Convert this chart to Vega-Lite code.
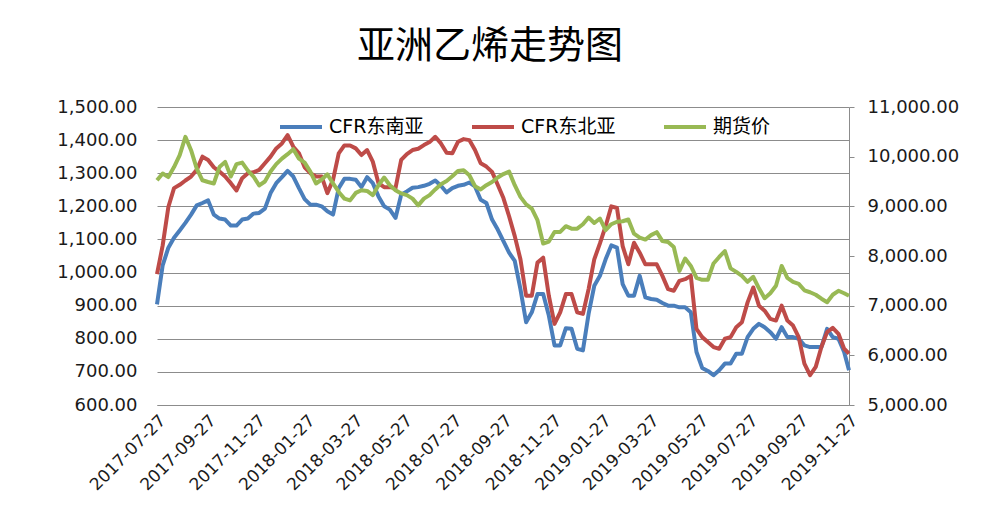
{
  "$schema": "https://vega.github.io/schema/vega-lite/v6.json",
  "width": 692,
  "height": 298,
  "autosize": {"type": "none"},
  "padding": {"left": 157, "top": 107, "right": 136, "bottom": 104},
  "background": "white",
  "title": {"text": "亚洲乙烯走势图", "font": "Noto Sans CJK SC", "fontSize": 38, "fontWeight": "normal", "color": "#000000", "anchor": "middle", "dx": -13, "offset": 32},
  "config": {"view": {"stroke": null}},
  "data": {"values": [
    {"date":"2017-07-27","CFR东南亚":904,"CFR东北亚":995,"期货价":9525},
    {"date":"2017-08-03","CFR东南亚":1022,"CFR东北亚":1082,"期货价":9660},
    {"date":"2017-08-10","CFR东南亚":1075,"CFR东北亚":1198,"期货价":9590},
    {"date":"2017-08-17","CFR东南亚":1105,"CFR东北亚":1255,"期货价":9790},
    {"date":"2017-08-24","CFR东南亚":1127,"CFR东北亚":1265,"期货价":10030},
    {"date":"2017-08-31","CFR东南亚":1150,"CFR东北亚":1278,"期货价":10400},
    {"date":"2017-09-07","CFR东南亚":1175,"CFR东北亚":1290,"期货价":10130},
    {"date":"2017-09-14","CFR东南亚":1203,"CFR东北亚":1310,"期货价":9760},
    {"date":"2017-09-21","CFR东南亚":1210,"CFR东北亚":1350,"期货价":9525},
    {"date":"2017-09-28","CFR东南亚":1218,"CFR东北亚":1340,"期货价":9490},
    {"date":"2017-10-05","CFR东南亚":1175,"CFR东北亚":1318,"期货价":9460},
    {"date":"2017-10-12","CFR东南亚":1163,"CFR东北亚":1305,"期货价":9790},
    {"date":"2017-10-19","CFR东南亚":1160,"CFR东北亚":1290,"期货价":9895},
    {"date":"2017-10-26","CFR东南亚":1142,"CFR东北亚":1270,"期货价":9600},
    {"date":"2017-11-02","CFR东南亚":1142,"CFR东北亚":1248,"期货价":9850},
    {"date":"2017-11-09","CFR东南亚":1160,"CFR东北亚":1285,"期货价":9880},
    {"date":"2017-11-16","CFR东南亚":1163,"CFR东北亚":1300,"期货价":9720},
    {"date":"2017-11-23","CFR东南亚":1178,"CFR东北亚":1303,"期货价":9600},
    {"date":"2017-11-30","CFR东南亚":1180,"CFR东北亚":1310,"期货价":9420},
    {"date":"2017-12-07","CFR东南亚":1193,"CFR东北亚":1330,"期货价":9500},
    {"date":"2017-12-14","CFR东南亚":1240,"CFR东北亚":1350,"期货价":9700},
    {"date":"2017-12-21","CFR东南亚":1270,"CFR东北亚":1375,"期货价":9850},
    {"date":"2017-12-28","CFR东南亚":1288,"CFR东北亚":1390,"期货价":9960},
    {"date":"2018-01-04","CFR东南亚":1307,"CFR东北亚":1415,"期货价":10050},
    {"date":"2018-01-11","CFR东南亚":1290,"CFR东北亚":1380,"期货价":10150},
    {"date":"2018-01-18","CFR东南亚":1255,"CFR东北亚":1360,"期货价":9960},
    {"date":"2018-01-25","CFR东南亚":1222,"CFR东北亚":1318,"期货价":9880},
    {"date":"2018-02-01","CFR东南亚":1205,"CFR东北亚":1300,"期货价":9700},
    {"date":"2018-02-08","CFR东南亚":1205,"CFR东北亚":1290,"期货价":9460},
    {"date":"2018-02-15","CFR东南亚":1200,"CFR东北亚":1290,"期货价":9540},
    {"date":"2018-02-22","CFR东南亚":1185,"CFR东北亚":1240,"期货价":9645},
    {"date":"2018-03-01","CFR东南亚":1175,"CFR东北亚":1280,"期货价":9460},
    {"date":"2018-03-08","CFR东南亚":1255,"CFR东北亚":1360,"期货价":9290},
    {"date":"2018-03-15","CFR东南亚":1283,"CFR东北亚":1384,"期货价":9155},
    {"date":"2018-03-22","CFR东南亚":1283,"CFR东北亚":1384,"期货价":9120},
    {"date":"2018-03-29","CFR东南亚":1280,"CFR东北亚":1375,"期货价":9270},
    {"date":"2018-04-05","CFR东南亚":1258,"CFR东北亚":1355,"期货价":9325},
    {"date":"2018-04-12","CFR东南亚":1288,"CFR东北亚":1370,"期货价":9310},
    {"date":"2018-04-19","CFR东南亚":1270,"CFR东北亚":1335,"期货价":9225},
    {"date":"2018-04-26","CFR东南亚":1230,"CFR东北亚":1270,"期货价":9425},
    {"date":"2018-05-03","CFR东南亚":1200,"CFR东北亚":1258,"期货价":9580},
    {"date":"2018-05-10","CFR东南亚":1190,"CFR东北亚":1258,"期货价":9425},
    {"date":"2018-05-17","CFR东南亚":1165,"CFR东北亚":1255,"期货价":9325},
    {"date":"2018-05-24","CFR东南亚":1235,"CFR东北亚":1340,"期货价":9260},
    {"date":"2018-05-31","CFR东南亚":1245,"CFR东北亚":1358,"期货价":9225},
    {"date":"2018-06-07","CFR东南亚":1256,"CFR东北亚":1370,"期货价":9155},
    {"date":"2018-06-14","CFR东南亚":1258,"CFR东北亚":1374,"期货价":9020},
    {"date":"2018-06-21","CFR东南亚":1262,"CFR东北亚":1385,"期货价":9155},
    {"date":"2018-06-28","CFR东南亚":1268,"CFR东北亚":1394,"期货价":9225},
    {"date":"2018-07-05","CFR东南亚":1278,"CFR东北亚":1410,"期货价":9340},
    {"date":"2018-07-12","CFR东南亚":1262,"CFR东北亚":1390,"期货价":9445},
    {"date":"2018-07-19","CFR东南亚":1242,"CFR东北亚":1362,"期货价":9510},
    {"date":"2018-07-26","CFR东南亚":1255,"CFR东北亚":1360,"期货价":9605},
    {"date":"2018-08-02","CFR东南亚":1262,"CFR东北亚":1395,"期货价":9710},
    {"date":"2018-08-09","CFR东南亚":1265,"CFR东北亚":1403,"期货价":9725},
    {"date":"2018-08-16","CFR东南亚":1272,"CFR东北亚":1400,"期货价":9625},
    {"date":"2018-08-23","CFR东南亚":1260,"CFR东北亚":1370,"期货价":9405},
    {"date":"2018-08-30","CFR东南亚":1220,"CFR东北亚":1330,"期货价":9340},
    {"date":"2018-09-06","CFR东南亚":1210,"CFR东北亚":1320,"期货价":9425},
    {"date":"2018-09-13","CFR东南亚":1160,"CFR东北亚":1304,"期货价":9490},
    {"date":"2018-09-20","CFR东南亚":1130,"CFR东北亚":1265,"期货价":9580},
    {"date":"2018-09-27","CFR东南亚":1095,"CFR东北亚":1225,"期货价":9650},
    {"date":"2018-10-04","CFR东南亚":1060,"CFR东北亚":1170,"期货价":9700},
    {"date":"2018-10-11","CFR东南亚":1035,"CFR东北亚":1110,"期货价":9425},
    {"date":"2018-10-18","CFR东南亚":950,"CFR东北亚":1040,"期货价":9190},
    {"date":"2018-10-25","CFR东南亚":850,"CFR东北亚":930,"期货价":9040},
    {"date":"2018-11-01","CFR东南亚":880,"CFR东北亚":930,"期货价":8955},
    {"date":"2018-11-08","CFR东南亚":935,"CFR东北亚":1030,"期货价":8720},
    {"date":"2018-11-15","CFR东南亚":935,"CFR东北亚":1045,"期货价":8250},
    {"date":"2018-11-22","CFR东南亚":870,"CFR东北亚":930,"期货价":8290},
    {"date":"2018-11-29","CFR东南亚":780,"CFR东北亚":845,"期货价":8485},
    {"date":"2018-12-06","CFR东南亚":780,"CFR东北亚":880,"期货价":8485},
    {"date":"2018-12-13","CFR东南亚":832,"CFR东北亚":935,"期货价":8600},
    {"date":"2018-12-20","CFR东南亚":830,"CFR东北亚":935,"期货价":8550},
    {"date":"2018-12-27","CFR东南亚":770,"CFR东北亚":880,"期货价":8550},
    {"date":"2019-01-03","CFR东南亚":765,"CFR东北亚":875,"期货价":8640},
    {"date":"2019-01-10","CFR东南亚":875,"CFR东北亚":950,"期货价":8775},
    {"date":"2019-01-17","CFR东南亚":960,"CFR东北亚":1040,"期货价":8665},
    {"date":"2019-01-24","CFR东南亚":990,"CFR东北亚":1088,"期货价":8755},
    {"date":"2019-01-31","CFR东南亚":1040,"CFR东北亚":1140,"期货价":8520},
    {"date":"2019-02-07","CFR东南亚":1082,"CFR东北亚":1200,"期货价":8640},
    {"date":"2019-02-14","CFR东南亚":1075,"CFR东北亚":1195,"期货价":8690},
    {"date":"2019-02-21","CFR东南亚":965,"CFR东北亚":1080,"期货价":8700},
    {"date":"2019-02-28","CFR东南亚":930,"CFR东北亚":1025,"期货价":8735},
    {"date":"2019-03-07","CFR东南亚":930,"CFR东北亚":1090,"期货价":8450},
    {"date":"2019-03-14","CFR东南亚":990,"CFR东北亚":1060,"期货价":8370},
    {"date":"2019-03-21","CFR东南亚":925,"CFR东北亚":1025,"期货价":8330},
    {"date":"2019-03-28","CFR东南亚":920,"CFR东北亚":1025,"期货价":8420},
    {"date":"2019-04-04","CFR东南亚":918,"CFR东北亚":1025,"期货价":8480},
    {"date":"2019-04-11","CFR东南亚":908,"CFR东北亚":990,"期货价":8300},
    {"date":"2019-04-18","CFR东南亚":900,"CFR东北亚":950,"期货价":8280},
    {"date":"2019-04-25","CFR东南亚":900,"CFR东北亚":945,"期货价":8180},
    {"date":"2019-05-02","CFR东南亚":895,"CFR东北亚":975,"期货价":7700},
    {"date":"2019-05-09","CFR东南亚":895,"CFR东北亚":980,"期货价":7950},
    {"date":"2019-05-16","CFR东南亚":880,"CFR东北亚":990,"期货价":7800},
    {"date":"2019-05-23","CFR东南亚":760,"CFR东北亚":830,"期货价":7560},
    {"date":"2019-05-30","CFR东南亚":712,"CFR东北亚":805,"期货价":7520},
    {"date":"2019-06-06","CFR东南亚":703,"CFR东北亚":790,"期货价":7520},
    {"date":"2019-06-13","CFR东南亚":690,"CFR东北亚":775,"期货价":7850},
    {"date":"2019-06-20","CFR东南亚":705,"CFR东北亚":770,"期货价":7980},
    {"date":"2019-06-27","CFR东南亚":725,"CFR东北亚":800,"期货价":8100},
    {"date":"2019-07-04","CFR东南亚":725,"CFR东北亚":805,"期货价":7750},
    {"date":"2019-07-11","CFR东南亚":755,"CFR东北亚":835,"期货价":7680},
    {"date":"2019-07-18","CFR东南亚":755,"CFR东北亚":850,"期货价":7600},
    {"date":"2019-07-25","CFR东南亚":805,"CFR东北亚":910,"期货价":7480},
    {"date":"2019-08-01","CFR东南亚":830,"CFR东北亚":955,"期货价":7580},
    {"date":"2019-08-08","CFR东南亚":845,"CFR东北亚":900,"期货价":7350},
    {"date":"2019-08-15","CFR东南亚":835,"CFR东北亚":885,"期货价":7150},
    {"date":"2019-08-22","CFR东南亚":820,"CFR东北亚":860,"期货价":7250},
    {"date":"2019-08-29","CFR东南亚":800,"CFR东北亚":855,"期货价":7400},
    {"date":"2019-09-05","CFR东南亚":835,"CFR东北亚":900,"期货价":7800},
    {"date":"2019-09-12","CFR东南亚":805,"CFR东北亚":855,"期货价":7560},
    {"date":"2019-09-19","CFR东南亚":805,"CFR东北亚":840,"期货价":7480},
    {"date":"2019-09-26","CFR东南亚":800,"CFR东北亚":805,"期货价":7440},
    {"date":"2019-10-03","CFR东南亚":780,"CFR东北亚":725,"期货价":7310},
    {"date":"2019-10-10","CFR东南亚":775,"CFR东北亚":690,"期货价":7270},
    {"date":"2019-10-17","CFR东南亚":775,"CFR东北亚":715,"期货价":7220},
    {"date":"2019-10-24","CFR东南亚":775,"CFR东北亚":775,"期货价":7140},
    {"date":"2019-10-31","CFR东南亚":830,"CFR东北亚":820,"期货价":7070},
    {"date":"2019-11-07","CFR东南亚":805,"CFR东北亚":833,"期货价":7220},
    {"date":"2019-11-14","CFR东南亚":800,"CFR东北亚":815,"期货价":7300},
    {"date":"2019-11-21","CFR东南亚":760,"CFR东北亚":770,"期货价":7250},
    {"date":"2019-11-27","CFR东南亚":705,"CFR东北亚":755,"期货价":7200}
  ]},
  "transform": [{"fold": ["CFR东南亚", "CFR东北亚", "期货价"], "as": ["series", "value"]}],
  "encoding": {
    "x": {
      "field": "date", "type": "temporal", "timeUnit": "utcyearmonthdate",
      "scale": {"domain": [{"year": 2017, "month": 7, "date": 27, "utc": true}, {"year": 2019, "month": 11, "date": 27, "utc": true}]},
      "axis": {
        "title": null, "grid": false, "domain": true, "domainColor": "#8c8c8c", "domainWidth": 1,
        "ticks": false, "labelAngle": -45, "labelAlign": "right", "labelBaseline": "top", "labelPadding": 7,
        "format": "%Y-%m-%d", "labelFont": "DejaVu Sans", "labelFontSize": 17, "labelColor": "#1a1a1a",
        "labelOverlap": false, "labelFlush": false,
        "values": [
          {"year": 2017, "month": 7, "date": 27, "utc": true},
          {"year": 2017, "month": 9, "date": 27, "utc": true},
          {"year": 2017, "month": 11, "date": 27, "utc": true},
          {"year": 2018, "month": 1, "date": 27, "utc": true},
          {"year": 2018, "month": 3, "date": 27, "utc": true},
          {"year": 2018, "month": 5, "date": 27, "utc": true},
          {"year": 2018, "month": 7, "date": 27, "utc": true},
          {"year": 2018, "month": 9, "date": 27, "utc": true},
          {"year": 2018, "month": 11, "date": 27, "utc": true},
          {"year": 2019, "month": 1, "date": 27, "utc": true},
          {"year": 2019, "month": 3, "date": 27, "utc": true},
          {"year": 2019, "month": 5, "date": 27, "utc": true},
          {"year": 2019, "month": 7, "date": 27, "utc": true},
          {"year": 2019, "month": 9, "date": 27, "utc": true},
          {"year": 2019, "month": 11, "date": 27, "utc": true}
        ]
      }
    },
    "color": {
      "field": "series", "type": "nominal",
      "scale": {"domain": ["CFR东南亚", "CFR东北亚", "期货价"], "range": ["#4A7EBB", "#BE4B48", "#98B954"]},
      "legend": {
        "orient": "none", "legendX": 121, "legendY": -3, "direction": "horizontal", "title": null,
        "symbolType": "stroke", "symbolSize": 1764, "symbolStrokeWidth": 4,
        "labelFont": "DejaVu Sans, Noto Sans CJK SC", "labelFontSize": 19, "labelColor": "#000000",
        "labelOffset": 5, "columnPadding": 40, "padding": 0
      }
    }
  },
  "layer": [
    {
      "transform": [{"filter": "datum.series !== '期货价'"}],
      "mark": {"type": "line", "strokeWidth": 4, "strokeJoin": "round"},
      "encoding": {
        "y": {
          "field": "value", "type": "quantitative",
          "scale": {"domain": [600, 1500], "nice": false, "zero": false},
          "axis": {
            "orient": "left", "title": null, "values": [600, 700, 800, 900, 1000, 1100, 1200, 1300, 1400, 1500],
            "format": ",.2f", "grid": true, "gridColor": "#8c8c8c", "gridWidth": 1, "domain": false, "ticks": false,
            "labelPadding": 20, "labelFont": "DejaVu Sans", "labelFontSize": 18, "labelColor": "#1a1a1a"
          }
        }
      }
    },
    {
      "transform": [{"filter": "datum.series === '期货价'"}],
      "mark": {"type": "line", "strokeWidth": 4, "strokeJoin": "round"},
      "encoding": {
        "y": {
          "field": "value", "type": "quantitative",
          "scale": {"domain": [5000, 11000], "nice": false, "zero": false},
          "axis": {
            "orient": "right", "title": null, "values": [5000, 6000, 7000, 8000, 9000, 10000, 11000],
            "format": ",.2f", "grid": false, "domain": true, "domainColor": "#8c8c8c", "ticks": true,
            "tickColor": "#8c8c8c", "tickSize": 5, "labelPadding": 13,
            "labelFont": "DejaVu Sans", "labelFontSize": 18, "labelColor": "#1a1a1a"
          }
        }
      }
    }
  ],
  "resolve": {"scale": {"y": "independent"}}
}
